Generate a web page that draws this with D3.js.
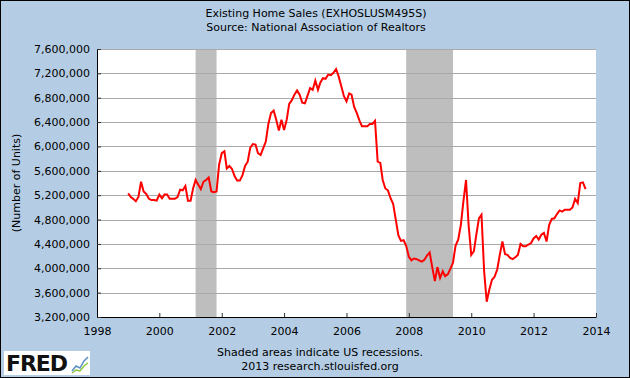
<!DOCTYPE html>
<html>
<head>
<meta charset="utf-8">
<script src="https://cdn.jsdelivr.net/npm/d3@7"></script>
<style>
  body { margin: 0; background: #fff; }
  svg text { font-family: "DejaVu Sans", sans-serif; }
</style>
</head>
<body>
<div id="wrapper"></div>
<script>
// monthly values, seasonally adjusted annual rate (number of units)
const sales1999 = [5230000, 5170000, 5140000, 5100000, 5170000, 5420000, 5260000, 5220000, 5140000, 5120000, 5120000, 5110000];
const sales2000 = [5210000, 5150000, 5210000, 5210000, 5140000, 5140000, 5140000, 5170000, 5290000, 5280000, 5350000, 5110000];
const sales2001 = [5110000, 5320000, 5450000, 5370000, 5300000, 5420000, 5450000, 5490000, 5260000, 5250000, 5260000, 5700000];
const sales2002 = [5890000, 5920000, 5640000, 5680000, 5630000, 5510000, 5440000, 5440000, 5530000, 5680000, 5750000, 5980000];
const sales2003 = [6040000, 6030000, 5890000, 5860000, 5970000, 6080000, 6370000, 6550000, 6590000, 6440000, 6260000, 6440000];
const sales2004 = [6270000, 6440000, 6700000, 6760000, 6850000, 6920000, 6850000, 6720000, 6710000, 6830000, 6960000, 6930000];
const sales2005 = [7080000, 6930000, 7050000, 7120000, 7110000, 7180000, 7170000, 7210000, 7270000, 7150000, 6990000, 6830000];
const sales2006 = [6740000, 6870000, 6850000, 6650000, 6550000, 6430000, 6330000, 6330000, 6330000, 6370000, 6370000, 6420000];
const sales2007 = [5750000, 5730000, 5450000, 5310000, 5280000, 5150000, 5060000, 4800000, 4540000, 4450000, 4460000, 4370000];
const sales2008 = [4190000, 4130000, 4160000, 4150000, 4130000, 4110000, 4140000, 4210000, 4260000, 4020000, 3790000, 4020000];
const sales2009 = [3840000, 3950000, 3870000, 3900000, 3990000, 4090000, 4370000, 4470000, 4710000, 5100000, 5450000, 4710000];
const sales2010 = [4220000, 4280000, 4550000, 4820000, 4880000, 3950000, 3450000, 3650000, 3810000, 3860000, 3980000, 4220000];
const sales2011 = [4440000, 4230000, 4220000, 4170000, 4150000, 4180000, 4220000, 4400000, 4360000, 4360000, 4390000, 4410000];
const sales2012 = [4490000, 4530000, 4470000, 4550000, 4580000, 4440000, 4710000, 4810000, 4820000, 4890000, 4950000, 4930000];
const sales2013 = [4960000, 4960000, 4960000, 5000000, 5140000, 5070000, 5400000, 5410000, 5300000];

const salesByYear = [
    [1999, sales1999], [2000, sales2000], [2001, sales2001], [2002, sales2002],
    [2003, sales2003], [2004, sales2004], [2005, sales2005], [2006, sales2006],
    [2007, sales2007], [2008, sales2008], [2009, sales2009], [2010, sales2010],
    [2011, sales2011], [2012, sales2012], [2013, sales2013]
];

// recession periods (peak month, trough month)
const recessions = [["2001-03-01", "2001-11-01"], ["2007-12-01", "2009-06-01"]];

const yearTicks = [1998, 2000, 2002, 2004, 2006, 2008, 2010, 2012, 2014];
const unitTicks = [3200000, 3600000, 4000000, 4400000, 4800000, 5200000, 5600000, 6000000, 6400000, 6800000, 7200000, 7600000];

const titleLines = ["Existing Home Sales (EXHOSLUSM495S)", "Source: National Association of Realtors"];
const footerLines = ["Shaded areas indicate US recessions.", "2013 research.stlouisfed.org"];

function buildPlot() {
    const dateParser = d3.timeParse("%Y-%m-%d");

    // flatten the yearly arrays into month records
    const data = [];
    salesByYear.forEach(([year, values]) => {
        values.forEach((v, i) => data.push({ date: new Date(year, i, 1), value: v }));
    });

    const xAccessor = (d) => d.date;
    const yAccessor = (d) => d.value;

    var dimension = {
        width: 630,
        height: 378,
        margin: {
            top: 49,
            left: 97,
            bottom: 61,
            right: 34
        }
    };
    dimension.boundedWidth = dimension.width - dimension.margin.left - dimension.margin.right;
    dimension.boundedHeight = dimension.height - dimension.margin.top - dimension.margin.bottom;

    const svg = d3.select("#wrapper").append("svg")
        .attr("width", dimension.width)
        .attr("height", dimension.height);

    // background + frame
    svg.append("rect")
        .attr("x", 0.5).attr("y", 0.5)
        .attr("width", dimension.width - 1).attr("height", dimension.height - 1)
        .attr("fill", "#b4cde4")
        .attr("stroke", "#000");

    svg.append("g")
        .selectAll("text")
        .data(titleLines)
        .join("text")
        .attr("x", 316)
        .attr("y", (d, i) => 17 + i * 14)
        .attr("text-anchor", "middle")
        .attr("font-size", 11)
        .attr("fill", "#000")
        .text(d => d);

    const bounded = svg.append("g")
        .attr("transform", `translate(${dimension.margin.left}, ${dimension.margin.top})`);

    bounded.append("rect")
        .attr("width", dimension.boundedWidth)
        .attr("height", dimension.boundedHeight)
        .attr("fill", "#fff");

    const xScaler = d3.scaleTime()
        .domain([new Date(1998, 0, 1), new Date(2014, 0, 1)])
        .range([0, dimension.boundedWidth]);

    const yScaler = d3.scaleLinear()
        .domain([3200000, 7600000])
        .range([dimension.boundedHeight, 0]);

    // recessions
    bounded.append("g")
        .selectAll("rect")
        .data(recessions)
        .join("rect")
        .attr("x", d => xScaler(dateParser(d[0])))
        .attr("width", d => xScaler(dateParser(d[1])) - xScaler(dateParser(d[0])))
        .attr("y", 0)
        .attr("height", dimension.boundedHeight)
        .attr("fill", "#bebebe");

    // horizontal grid
    bounded.append("g")
        .selectAll("line")
        .data(unitTicks)
        .join("line")
        .attr("x1", 0)
        .attr("x2", dimension.boundedWidth)
        .attr("y1", d => Math.round(yScaler(d)) + 0.5)
        .attr("y2", d => Math.round(yScaler(d)) + 0.5)
        .attr("stroke", "#aaaaaa")
        .attr("stroke-width", 1);

    var salesGenerator = d3.line()
        .x(d => xScaler(xAccessor(d)))
        .y(d => yScaler(yAccessor(d)));

    bounded.append("path")
        .attr("d", salesGenerator(data))
        .attr("fill", "none")
        .attr("stroke", "#ff0000")
        .attr("stroke-width", 2)
        .attr("stroke-linejoin", "miter");

    const xAxis = d3.axisBottom(xScaler)
        .tickValues(yearTicks.map(y => new Date(y, 0, 1)))
        .tickFormat(d3.timeFormat("%Y"))
        .tickSizeInner(-4)
        .tickSizeOuter(0)
        .tickPadding(10);

    const yAxis = d3.axisLeft(yScaler)
        .tickValues(unitTicks)
        .tickFormat(d3.format(","))
        .tickSizeInner(-4)
        .tickSizeOuter(0)
        .tickPadding(7);

    const xg = bounded.append("g")
        .attr("transform", `translate(0, ${dimension.boundedHeight})`)
        .call(xAxis);

    const yg = bounded.append("g")
        .call(yAxis);

    [xg, yg].forEach(g => {
        g.attr("font-family", "DejaVu Sans").attr("font-size", 11);
        g.select(".domain").attr("stroke", "#000");
        g.selectAll(".tick line").attr("stroke", "#333");
        g.selectAll(".tick text").attr("fill", "#000");
    });

    svg.append("text")
        .attr("transform", `translate(20, ${dimension.margin.top + dimension.boundedHeight / 2}) rotate(-90)`)
        .attr("text-anchor", "middle")
        .attr("font-size", 11)
        .attr("fill", "#000")
        .text("(Number of Units)");

    svg.append("g")
        .selectAll("text")
        .data(footerLines)
        .join("text")
        .attr("x", 320)
        .attr("y", (d, i) => 356 + i * 14)
        .attr("text-anchor", "middle")
        .attr("font-size", 11)
        .attr("fill", "#000")
        .text(d => d);

    // FRED logo
    const logo = svg.append("g").attr("transform", "translate(4, 351)");
    logo.append("rect").attr("width", 86).attr("height", 24).attr("fill", "#fff");
    logo.append("text")
        .attr("x", 2).attr("y", 20)
        .attr("font-family", "Liberation Sans, Arial, sans-serif")
        .attr("font-weight", "bold")
        .attr("font-size", 22)
        .attr("textLength", 62)
        .attr("fill", "#111")
        .text("FRED");
    logo.append("path")
        .attr("d", "M68,20 L72,15 L76,17 L80,10 L84,6")
        .attr("fill", "none").attr("stroke", "#5b8fc7").attr("stroke-width", 1.5);
    logo.append("path")
        .attr("d", "M68,22 L72,19 L76,20 L80,15 L84,12")
        .attr("fill", "none").attr("stroke", "#8cc63f").attr("stroke-width", 1.5);
}

buildPlot();
</script>
</body>
</html>
